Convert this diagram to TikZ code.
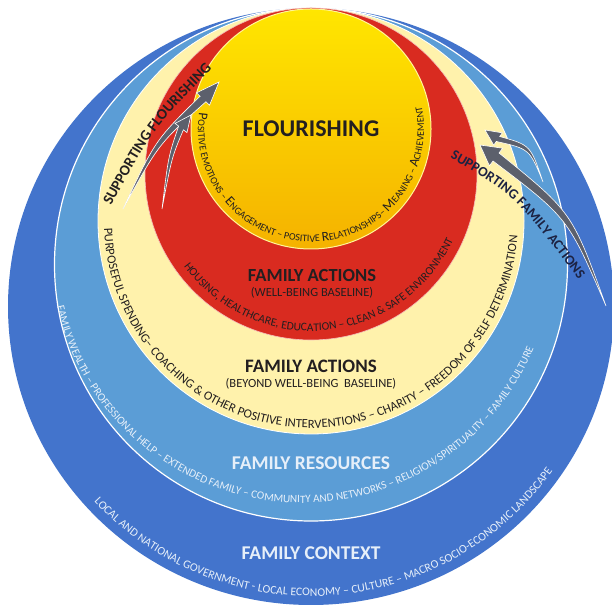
\documentclass[tikz,border=0pt]{standalone}
\usepackage{fontspec}
\setmainfont{Carlito}
\usetikzlibrary{decorations.text,calc}

\definecolor{ctxblue}{HTML}{4374CC}
\definecolor{resblue}{HTML}{5B9DD6}
\definecolor{creamband}{HTML}{FFF2AC}
\definecolor{actred}{HTML}{D92B20}
\definecolor{flotop}{HTML}{FFE600}
\definecolor{flobot}{HTML}{F5B200}
\definecolor{arrowgray}{HTML}{5C606C}
\definecolor{inkdark}{HTML}{231F20}
\definecolor{navyink}{HTML}{1C2242}
\definecolor{paleink}{HTML}{E6EFF9}

\newcommand\setfs[1]{\fontsize{#1}{#1}\selectfont}
\newcommand\ybig{\fontsize{13.5}{13.5}\selectfont}
\newcommand\ysmall{\fontsize{10}{10}\selectfont}

% tapered curved arrow: tail, bend, head base, tip, shaft half width, head half width, bend offset
\newcommand\taperarrow[7]{%
  \path[arrowbody] (#1)
    .. controls ($(#2)!#7!90:(#3)$) .. ($(#3)!#5!90:(#4)$)
    -- ($(#3)!#6!90:(#4)$) -- (#4) -- ($(#3)!#6!-90:(#4)$)
    -- ($(#3)!#5!-90:(#4)$)
    .. controls ($(#2)!#7!-90:(#3)$) .. (#1) -- cycle;}

\tikzset{
  ringtitle/.style={font=\bfseries\setfs{19}, text=inkdark, inner sep=0pt},
  ringsub/.style={font=\setfs{12.5}, text=inkdark, inner sep=0pt},
  ringline/.style={draw=white, line width=1.2pt},
  arrowbody/.style={fill=arrowgray, draw=white, line width=0.6pt},
}

\begin{document}
\begin{tikzpicture}[x=1pt,y=1pt]
\useasboundingbox (0,0) rectangle (612,609);

% nested rings, all touching at the top
\fill[ctxblue] (311,302.5) ellipse[x radius=303, y radius=298.5];
\fill[resblue] (311,344.5) circle[radius=256.5];
\draw[ringline] (311,344.5) circle[radius=256.5];
\fill[creamband] (311,388) circle[radius=213];
\draw[ringline, line width=0.8pt] (311,388) circle[radius=213];
\fill[actred] (311,435) circle[radius=166];
\draw[ringline, line width=0.6pt, draw=white!70!actred] (311,435) circle[radius=166];
\shade[top color=flotop, bottom color=flobot] (311,480) circle[radius=120];
\draw[draw=flotop!40!white, line width=1pt] (311,480) circle[radius=120];

% ring titles
\node[ringtitle, font=\bfseries\setfs{24}] (flo) at (311,480) {FLOURISHING};
\node[ringtitle, font=\bfseries\setfs{18.5}] (wb) at (312,333) {FAMILY ACTIONS};
\node[ringsub] (wbsub) at (312,316) {(WELL-BEING BASELINE)};
\node[ringtitle] (bwb) at (311,243) {FAMILY ACTIONS};
\node[ringsub] (bwbsub) at (311,225) {(BEYOND WELL-BEING\ \ BASELINE)};
\node[ringtitle, font=\bfseries\setfs{19.5}, text=paleink] (res) at (311,146) {FAMILY RESOURCES};
\node[ringtitle, font=\bfseries\setfs{19.5}, text=paleink] (ctx) at (311,56) {FAMILY CONTEXT};

% curved captions inside each ring
\path[decorate, decoration={text along path, text align=center, text color=inkdark,
  text={|\ybig|P|\ysmall|OSITIVE EMOTIONS – |\ybig|E|\ysmall|NGAGEMENT – POSITIVE |\ybig|R|\ysmall|ELATIONSHIPS– |\ybig|M|\ysmall|EANING – |\ybig|A|\ysmall|CHIEVEMENT}}]
  ($(311,480)+(150:113)$) arc[start angle=150, end angle=393, radius=113];

\path[decorate, decoration={text along path, text align=center, text color=inkdark,
  text={|\setfs{11.5}|HOUSING, HEALTHCARE, EDUCATION – CLEAN {\&} SAFE ENVIRONMENT}}]
  ($(311,435)+(190:157)$) arc[start angle=190, end angle=361, radius=157];

\path[decorate, decoration={text along path, text align=center, text color=inkdark,
  text={|\setfs{12.6}|PURPOSEFUL SPENDING– COACHING {\&} OTHER POSITIVE INTERVENTIONS – CHARITY – FREEDOM OF SELF DETERMINATION}}]
  ($(311,388)+(150:207)$) arc[start angle=150, end angle=388, radius=207];

\path[decorate, decoration={text along path, text align=center, text color=paleink,
  text={|\setfs{11.2}|FAMILY WEALTH – PROFESSIONAL HELP – EXTENDED FAMILY – COMMUNITY AND NETWORKS – RELIGION/SPIRITUALITY – FAMILY CULTURE}}]
  ($(302,357)+(165:251)$) arc[start angle=165, end angle=365, radius=251];

\path[decorate, decoration={text along path, text align=center, text color=paleink,
  text={|\setfs{11.7}|LOCAL AND NATIONAL GOVERNMENT - LOCAL ECONOMY – CULTURE – MACRO SOCIO-ECONOMIC LANDSCAPE}}]
  ($(311,309)+(200:296)$) arc[start angle=200, end angle=347.6, radius=296];

% support arrows
\coordinate (a1t) at (123,400); \coordinate (a1c) at (157,467);
\coordinate (a1b) at (203,510); \coordinate (a1p) at (219,527);
\coordinate (a2t) at (162,400); \coordinate (a2c) at (170,452);
\coordinate (a2b) at (181,481); \coordinate (a2p) at (191,494);
\coordinate (a3t) at (543,427); \coordinate (a3c) at (530,462);
\coordinate (a3b) at (498,470); \coordinate (a3p) at (485,479);
\coordinate (a4t) at (606,303); \coordinate (a4c) at (570,394);
\coordinate (a4b) at (496,452); \coordinate (a4p) at (480,464);
\taperarrow{a1t}{a1c}{a1b}{a1p}{4pt}{9pt}{2.5pt}
\taperarrow{a2t}{a2c}{a2b}{a2p}{3pt}{7.5pt}{1.8pt}
\taperarrow{a3t}{a3c}{a3b}{a3p}{3pt}{7.5pt}{2pt}
\taperarrow{a4t}{a4c}{a4b}{a4p}{5pt}{11pt}{3.5pt}

% support labels
\path[decorate, decoration={text along path, text align=left, text color=inkdark,
  text={|\bfseries\setfs{15}|SUPPORTING FLOURISHING}}]
  (111,403) .. controls (152,479) .. (218,546) -- (236,563);

\path[decorate, decoration={text along path, text align=left, text color=navyink,
  text={|\bfseries\setfs{14}|SUPPORTING FAMILY ACTIONS}}]
  (450,451) .. controls (515,414) .. (588,317) -- (598,300);
\end{tikzpicture}
\end{document}
